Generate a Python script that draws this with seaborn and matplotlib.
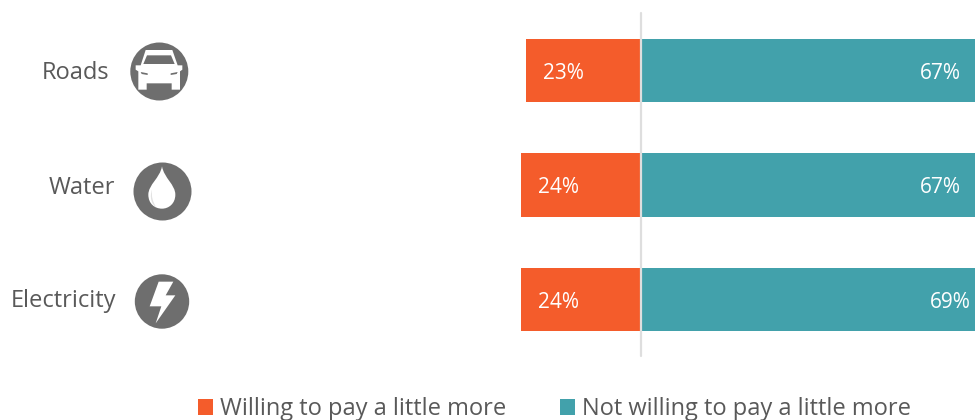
import matplotlib
matplotlib.use("Agg")
import matplotlib.pyplot as plt
import pandas as pd
import seaborn as sns
from matplotlib.patches import Circle, PathPatch, Polygon
from matplotlib.path import Path

services = ["Roads", "Water", "Electricity"]
willing = [23, 24, 24]
not_willing = [67, 67, 69]
willing_name = "Willing to pay a little more"
not_willing_name = "Not willing to pay a little more"

ORANGE = "#F45C2B"
TEAL = "#42A1AB"
TEXT = "#595959"
ICON = "#6E6E6E"

sns.set_theme(style="white")
plt.rcParams["font.family"] = ["Open Sans", "DejaVu Sans"]

fig = plt.figure(figsize=(9.75, 4.2), dpi=100, facecolor="white")
ax = fig.add_axes([0, 0, 1, 1])

# Diverging bars: the "willing" share runs left of zero
table = pd.DataFrame({
    "service": services * 2,
    "share": [-v for v in willing] + not_willing,
    "answer": [willing_name] * 3 + [not_willing_name] * 3,
})
sns.barplot(
    data=table, y="service", x="share", hue="answer", order=services,
    hue_order=[willing_name, not_willing_name],
    palette=[ORANGE, TEAL], dodge=False, width=0.555, saturation=1,
    orient="h", ax=ax, linewidth=0,
)
ax.set_xlim(-128.2, 66.8)
ax.set_ylim(3.052, -0.616)
ax.set_xlabel("")
ax.set_ylabel("")
ax.set_xticks([])
ax.set_yticks([])
sns.despine(ax=ax, left=True, bottom=True, top=True, right=True)

# Light baseline at zero, over the bars
ax.axvline(0, ymin=1 - 356 / 420, ymax=1 - 13 / 420, color="#DEDEDE", lw=1.6, zorder=5)

# Value labels just inside the outer end of each bar
for i, (w, n) in enumerate(zip(willing, not_willing)):
    ax.annotate(f"{w}%", (-w, i), xytext=(12, 0), textcoords="offset points",
                ha="left", va="center_baseline", color="white", fontsize=15,
                zorder=6, annotation_clip=False)
    ax.annotate(f"{n}%", (n, i), xytext=(-11.2, 0), textcoords="offset points",
                ha="right", va="center_baseline", color="white", fontsize=15,
                zorder=6, annotation_clip=False)

# Legend along the bottom edge
handles, labels = ax.get_legend_handles_labels()
ax.legend(
    handles, labels, ncol=2, frameon=False, loc="lower left",
    bbox_to_anchor=(198 / 975, -1 / 420), borderaxespad=0, borderpad=0,
    fontsize=17, labelcolor=TEXT, handlelength=0.64, handleheight=0.64,
    handletextpad=0.31, columnspacing=2.25,
)

# Overlay in figure pixels for the row names and pictograms
pix = fig.add_axes([0, 0, 1, 1], facecolor="none")
pix.set_xlim(0, 975)
pix.set_ylim(420, 0)
pix.axis("off")

name_right = [109.5, 115, 116]
name_y = [73, 188, 301]
for name, x, y in zip(services, name_right, name_y):
    pix.text(x, y, name, ha="right", va="center", color=TEXT, fontsize=17)


def crop_points(points, left, top):
    return [(left + px / 3, top + py / 3) for px, py in points]


# Car
pix.add_patch(Circle((159.3, 71.5), 29, color=ICON, lw=0))
car = crop_points(
    [(62, 36), (142, 36), (158, 82), (172, 82), (172, 95), (165, 100), (165, 155),
     (140, 155), (140, 136), (65, 136), (65, 155), (40, 155), (40, 100), (32, 95),
     (32, 82), (47, 82)], 125, 38)
pix.add_patch(Polygon(car, closed=True, color="white", lw=0))
glass = crop_points([(66, 52), (138, 52), (149, 78), (55, 78)], 125, 38)
pix.add_patch(Polygon(glass, closed=True, color=ICON, lw=0))
for lamp in ([(47, 102), (68, 106), (68, 111), (50, 108)],
             [(158, 102), (137, 106), (137, 111), (155, 108)]):
    pix.add_patch(Polygon(crop_points(lamp, 125, 38), closed=True, color=ICON, lw=0))

# Drop
pix.add_patch(Circle((162.5, 191.5), 29, color=ICON, lw=0))
drop_vertices = crop_points(
    [(102, 25), (108, 60), (142, 80), (142, 110), (142, 137), (122, 152), (102, 152),
     (80, 152), (61, 137), (61, 110), (61, 80), (96, 60), (102, 25)], 128, 158)
drop_codes = [Path.MOVETO] + [Path.CURVE4] * 12
pix.add_patch(PathPatch(Path(drop_vertices, drop_codes), color="white", lw=0))
shine_vertices = crop_points(
    [(72, 95), (64, 115), (70, 140), (84, 146), (74, 132), (70, 115), (72, 95)], 128, 158)
shine_codes = [Path.MOVETO] + [Path.CURVE4] * 6
pix.add_patch(PathPatch(Path(shine_vertices, shine_codes), color="#E2E2E2", lw=0))

# Lightning bolt
pix.add_patch(Circle((162, 301.5), 27.2, color=ICON, lw=0))
bolt = crop_points(
    [(92, 41), (136, 41), (113, 82), (142, 82), (83, 166), (100, 115), (65, 115)], 128, 268)
pix.add_patch(Polygon(bolt, closed=True, color="white", lw=0))

fig.savefig("out.png", dpi=100, facecolor="white")
